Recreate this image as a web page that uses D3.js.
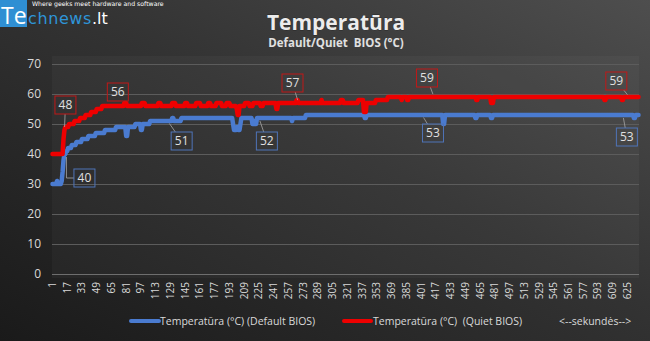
<!DOCTYPE html>
<html><head><meta charset="utf-8">
<script src="https://cdn.jsdelivr.net/npm/d3@7"></script>
<style>
html,body{margin:0;padding:0;background:#2a2a2a;}
svg{display:block;font-family:"Open Sans",sans-serif;}
</style></head>
<body><svg id="c" width="650" height="341"></svg>
<script>
// ---- data (value, run length in seconds) ----
const seriesNames = ["Temperatūra (°C) (Default BIOS)", "Temperatūra (°C)  (Quiet BIOS)"];
const blueRuns = [[30,5],[31,1],[30,4],[31,1],[34,1],[38,1],[40,2],[41,2],[42,4],[43,5],[44,6],[45,7],[46,8],[47,10],[48,12],[49,11],[46,2],[49,8],[50,6],[48,2],[50,8],[51,24],[52,2],[51,8],[52,56],[50,1],[48,3],[49,2],[48,2],[50,1],[52,12],[50,2],[51,1],[50,2],[52,38],[51,1],[52,14],[53,64],[52,2],[53,83],[50,2],[53,33],[52,2],[53,15],[52,2],[53,153],[52,2],[53,4]];
const redRuns = [[40,12],[45,1],[48,1],[49,4],[50,6],[51,6],[52,6],[53,6],[54,6],[55,6],[56,24],[57,3],[56,16],[57,4],[56,14],[57,3],[56,12],[57,4],[56,10],[57,3],[56,9],[57,5],[56,8],[57,3],[56,6],[57,6],[56,5],[57,4],[56,7],[55,1],[53,2],[56,6],[57,5],[56,4],[57,8],[56,3],[57,14],[55,2],[57,20],[58,2],[57,25],[58,1],[57,20],[58,3],[57,16],[58,6],[54,3],[57,10],[58,13],[59,15],[58,1],[59,5],[58,2],[59,73],[58,2],[59,14],[57,3],[59,120],[58,2],[59,17],[58,2],[59,17]];
const yTicks = [0,10,20,30,40,50,60,70];
const xTickStep = 16;
const title = "Temperatūra";
const subtitle = "Default/Quiet  BIOS (°C)";
const axisNote = "<--sekundės-->";
// data-label anchors (second index)
const blueLabelSeconds = [14,126,225,402,620];
const redLabelSeconds = [14,73,268,415,627];

function expand(runs){const o=[];runs.forEach(([v,c])=>{for(let i=0;i<c;i++)o.push(v);});return o;}
const blue = expand(blueRuns), red = expand(redRuns);
const N = Math.max(blue.length, red.length);
const seconds = d3.range(1, N+1);

const svg = d3.select("#c");
const defs = svg.append("defs");
const bg = defs.append("linearGradient").attr("id","bg").attr("x1","0").attr("y1","1").attr("x2","1").attr("y2","0");
bg.append("stop").attr("offset","0").attr("stop-color","#1a1a1a");
bg.append("stop").attr("offset","0.55").attr("stop-color","#333333");
bg.append("stop").attr("offset","1").attr("stop-color","#4e4e4e");
svg.append("rect").attr("width",650).attr("height",341).attr("fill","url(#bg)");

const L=52, R=639, T=64, B=274;
svg.append("rect").attr("x",L).attr("y",56).attr("width",R-L).attr("height",B-56+4).attr("fill","rgba(255,255,255,0.03)");

const x = d3.scaleBand().domain(seconds).range([L,R]).padding(0);
const cx = s => x(s) + x.bandwidth()/2;
const y = d3.scaleLinear().domain([0,70]).range([B,T]);

// grid
svg.append("g").selectAll("line").data(yTicks.filter(d=>d>0)).join("line")
  .attr("x1",L).attr("x2",R).attr("y1",d=>y(d)+0.5).attr("y2",d=>y(d)+0.5)
  .attr("stroke","#5c5c5c").attr("stroke-width",1);
svg.append("line").attr("x1",L).attr("x2",R).attr("y1",B+0.5).attr("y2",B+0.5).attr("stroke","#6e6e6e");

// y labels
svg.append("g").selectAll("text").data(yTicks).join("text")
  .attr("x",41).attr("y",d=>y(d)).attr("dy","0.35em").attr("text-anchor","end")
  .attr("fill","#d9d9d9").attr("font-size",12).text(d=>d);

// x labels
const xt = seconds.filter(s => (s-1)%xTickStep===0);
svg.append("g").selectAll("text").data(xt).join("text")
  .attr("transform",d=>`translate(${cx(d)},282) rotate(-90)`)
  .attr("dy","0.35em").attr("text-anchor","end")
  .attr("fill","#d9d9d9").attr("font-size",10).text(d=>d);

// lines
const line = d3.line().x((d,i)=>cx(i+1)).y(d=>y(d)).curve(d3.curveLinear);
const BLUE="#4a7bd0", RED="#ee0000";
svg.append("path").datum(blue).attr("d",line).attr("fill","none").attr("stroke",BLUE).attr("stroke-width",4.5).attr("stroke-linejoin","round").attr("stroke-linecap","round");
svg.append("path").datum(red).attr("d",line).attr("fill","none").attr("stroke",RED).attr("stroke-width",4.5).attr("stroke-linejoin","round").attr("stroke-linecap","round");

// data labels (offsets are layout only)
const blueOff = [[20,24,true],[14,20],[8,23],[11,18],[4,22]];
const redOff = [[1,-25],[-1,-14],[-6,-20],[-7,-19],[-13,-16]];
function drawLabels(secs, offs, data, color, boxColor){
  const g = svg.append("g");
  secs.forEach((s,i)=>{
    const px=cx(s), py=y(data[s-1]);
    const [dx,dy,elbow]=offs[i];
    const bx=px+dx, by=py+dy, w=21, h=18;
    if(elbow){
      g.append("path").attr("d",`M${px+2},${py+3}V${by}H${bx-w/2}`).attr("fill","none").attr("stroke","#a6a6a6").attr("stroke-width",0.8);
    } else {
      const t=Math.min((w/2)/Math.abs(dx||1e-6),(h/2)/Math.abs(dy||1e-6));
      const ex=bx-dx*t, ey=by-dy*t;
      const len=Math.hypot(dx,dy), sx=px+dx/len*3, sy=py+dy/len*3;
      if(Math.hypot(ex-sx,ey-sy)>3)
        g.append("line").attr("x1",sx).attr("y1",sy).attr("x2",ex).attr("y2",ey).attr("stroke","#a6a6a6").attr("stroke-width",0.8);
    }
    g.append("rect").attr("x",bx-w/2).attr("y",by-h/2).attr("width",w).attr("height",h)
      .attr("fill","none").attr("stroke",boxColor).attr("stroke-width",1);
    g.append("text").attr("x",bx).attr("y",by).attr("dy","0.36em").attr("text-anchor","middle")
      .attr("fill","#e0e0e0").attr("font-size",12).text(data[s-1]);
  });
}
drawLabels(blueLabelSeconds, blueOff, blue, BLUE, "#4f74b8");
drawLabels(redLabelSeconds, redOff, red, RED, "#c01818");

// titles
svg.append("text").attr("x",336).attr("y",30).attr("text-anchor","middle").attr("font-weight","bold")
  .attr("font-size",21).attr("fill","#ececec").attr("stroke","#111").attr("stroke-width",0.4).attr("paint-order","stroke").text(title);
svg.append("text").attr("x",336).attr("y",47).attr("text-anchor","middle").attr("font-weight","bold")
  .attr("font-size",11.5).attr("fill","#e0e0e0").style("white-space","pre").text(subtitle);

// legend
svg.append("line").attr("x1",131).attr("x2",159).attr("y1",321).attr("y2",321).attr("stroke",BLUE).attr("stroke-width",4).attr("stroke-linecap","round");
svg.append("text").attr("x",160).attr("y",325).attr("font-size",10.5).attr("fill","#d9d9d9").style("white-space","pre").text(seriesNames[0]);
svg.append("line").attr("x1",344).attr("x2",371).attr("y1",321).attr("y2",321).attr("stroke",RED).attr("stroke-width",4).attr("stroke-linecap","round");
svg.append("text").attr("x",373).attr("y",325).attr("font-size",10.5).attr("fill","#d9d9d9").style("white-space","pre").text(seriesNames[1]);
svg.append("text").attr("x",559).attr("y",325).attr("font-size",10.5).attr("fill","#d9d9d9").text(axisNote);

// logo
svg.append("rect").attr("x",0).attr("y",0).attr("width",27).attr("height",27).attr("fill","#2f8fd3");
svg.append("text").attr("x",1).attr("y",24).attr("font-size",23).attr("fill","#ffffff").text("Te");
svg.append("text").attr("x",28).attr("y",24).attr("font-family","DejaVu Sans").attr("font-size",16).attr("fill","#2e95d8").attr("letter-spacing",0.6).text("chnews");
svg.append("text").attr("x",92).attr("y",24).attr("font-family","DejaVu Sans").attr("font-size",16).attr("fill","#ffffff").text(".lt");
svg.append("text").attr("x",32).attr("y",6).attr("font-family","DejaVu Sans").attr("font-size",6.2).attr("fill","#ffffff").text("Where geeks meet hardware and software");
</script></body></html>
